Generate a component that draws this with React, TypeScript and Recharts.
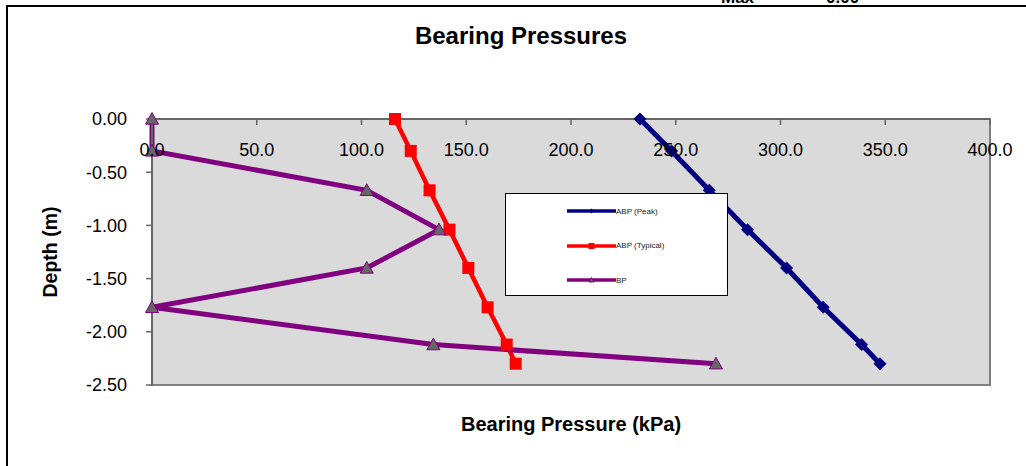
import React from "react";
import {
  LineChart,
  Line,
  XAxis,
  YAxis,
  Legend,
  ReferenceArea,
} from "recharts";

// depth below ground (m), shared by all three series
const depths = [0, -0.3, -0.67, -1.04, -1.4, -1.77, -2.12, -2.3];
const abpPeak = [232.9, 248, 266, 284.3, 302.9, 320.4, 338.7, 347.5];
const abpTypical = [116, 123.5, 132.5, 142, 151, 160.2, 169.3, 173.6];
const bp = [0, 0, 102.5, 137, 102.5, 0, 134.3, 269.2];

const xTicks = [0, 50, 100, 150, 200, 250, 300, 350, 400];
const yTicks = [0, -0.5, -1, -1.5, -2, -2.5];

const FONT = "'Liberation Sans', Arial, sans-serif";

const toPoints = (vals: number[]) =>
  vals.map((p, i) => ({ p, d: depths[i] }));

type Shape = "diamond" | "square" | "triangle";

const series = [
  { name: "ABP (Peak)", values: abpPeak, color: "#000080", shape: "diamond" as Shape, width: 5 },
  { name: "ABP (Typical)", values: abpTypical, color: "#FF0000", shape: "square" as Shape, width: 4.5 },
  { name: "BP", values: bp, color: "#800080", shape: "triangle" as Shape, width: 5 },
];

function Marker({ cx, cy, shape, color, size }: any) {
  const h = size / 2;
  if (shape === "square") {
    return <rect x={cx - h} y={cy - h} width={size} height={size} fill={color} />;
  }
  if (shape === "diamond") {
    return (
      <polygon
        points={`${cx},${cy - h} ${cx + h},${cy} ${cx},${cy + h} ${cx - h},${cy}`}
        fill={color}
      />
    );
  }
  return (
    <polygon
      points={`${cx},${cy - h} ${cx + h},${cy + h * 0.8} ${cx - h},${cy + h * 0.8}`}
      fill="#666666"
      stroke={color}
      strokeWidth={1}
    />
  );
}

function LegendBox() {
  return (
    <div
      style={{
        width: 223,
        height: 103,
        boxSizing: "border-box",
        border: "1.5px solid #000",
        background: "#fff",
        position: "relative",
      }}
    >
      {series.map((s, i) => (
        <div
          key={s.name}
          style={{
            position: "absolute",
            left: 61,
            top: 12 + i * 34.5,
            display: "flex",
            alignItems: "center",
            fontFamily: FONT,
            fontSize: 8,
            color: "#222",
          }}
        >
          <svg width={49} height={10}>
            <line x1={0} y1={5} x2={49} y2={5} stroke={s.color} strokeWidth={3.5} />
            <Marker cx={24.5} cy={5} shape={s.shape} color={s.color} size={s.shape === "square" ? 6 : 5} />
          </svg>
          <span>{s.name}</span>
        </div>
      ))}
    </div>
  );
}

export default function App() {
  return (
    <div
      style={{
        position: "absolute",
        left: 0,
        top: 0,
        width: 1026,
        height: 466,
        overflow: "hidden",
        background: "#fff",
      }}
    >
      <div
        style={{
          position: "absolute",
          left: 6,
          top: 5,
          width: 1100,
          height: 600,
          border: "2px solid #000",
        }}
      />
      <LineChart
        width={1026}
        height={466}
        margin={{ top: 119, right: 36, bottom: 81, left: 92 }}
        style={{ position: "absolute", left: 0, top: 0 }}
      >
        <ReferenceArea
          x1={0}
          x2={400}
          y1={-2.5}
          y2={0}
          fill="#DADADA"
          fillOpacity={1}
          stroke="#808080"
          strokeWidth={2}
        />
        <XAxis
          type="number"
          dataKey="p"
          orientation="top"
          mirror
          domain={[0, 400]}
          ticks={xTicks}
          tickFormatter={(v: number) => v.toFixed(1)}
          tick={{ fill: "#000", fontSize: 18, fontFamily: FONT }}
          tickSize={6}
          tickMargin={18}
          axisLine={{ stroke: "#666", strokeWidth: 2 }}
          tickLine={{ stroke: "#666", strokeWidth: 1.5 }}
        />
        <YAxis
          type="number"
          dataKey="d"
          domain={[-2.5, 0]}
          ticks={yTicks}
          width={60}
          tickFormatter={(v: number) => v.toFixed(2)}
          tick={{ fill: "#000", fontSize: 18, fontFamily: FONT }}
          tickSize={6}
          tickMargin={19}
          axisLine={{ stroke: "#666", strokeWidth: 2 }}
          tickLine={{ stroke: "#666", strokeWidth: 1.5 }}
        />
        {series.map((s) => (
          <Line
            key={s.name}
            name={s.name}
            data={toPoints(s.values)}
            dataKey="d"
            type="linear"
            stroke={s.color}
            strokeWidth={s.width}
            isAnimationActive={false}
            dot={(props: any) => (
              <Marker
                key={`${s.name}-${props.index}`}
                cx={props.cx}
                cy={props.cy}
                shape={s.shape}
                color={s.color}
                size={s.shape === "square" ? 12 : 13}
              />
            )}
            activeDot={false}
          />
        ))}
        <Legend
          layout="vertical"
          align="center"
          verticalAlign="middle"
          content={() => <LegendBox />}
          wrapperStyle={{ position: "absolute", left: 505, top: 193, width: 223, height: 103 }}
        />
      </LineChart>
      <svg
        width={1026}
        height={466}
        style={{ position: "absolute", left: 0, top: 0, pointerEvents: "none" }}
        fontFamily={FONT}
      >
        <text x={721} y={3} fontSize={17} fontWeight="bold">Max</text>
        <text x={826} y={3} fontSize={17} fontWeight="bold">0.00</text>
        <text x={521} y={44} fontSize={24} fontWeight="bold" textAnchor="middle">
          Bearing Pressures
        </text>
        <text x={571} y={431} fontSize={20} fontWeight="bold" textAnchor="middle">
          Bearing Pressure (kPa)
        </text>
        <text
          x={0}
          y={0}
          fontSize={19.5}
          fontWeight="bold"
          textAnchor="middle"
          transform="translate(57 252) rotate(-90)"
        >
          Depth (m)
        </text>
      </svg>
    </div>
  );
}
